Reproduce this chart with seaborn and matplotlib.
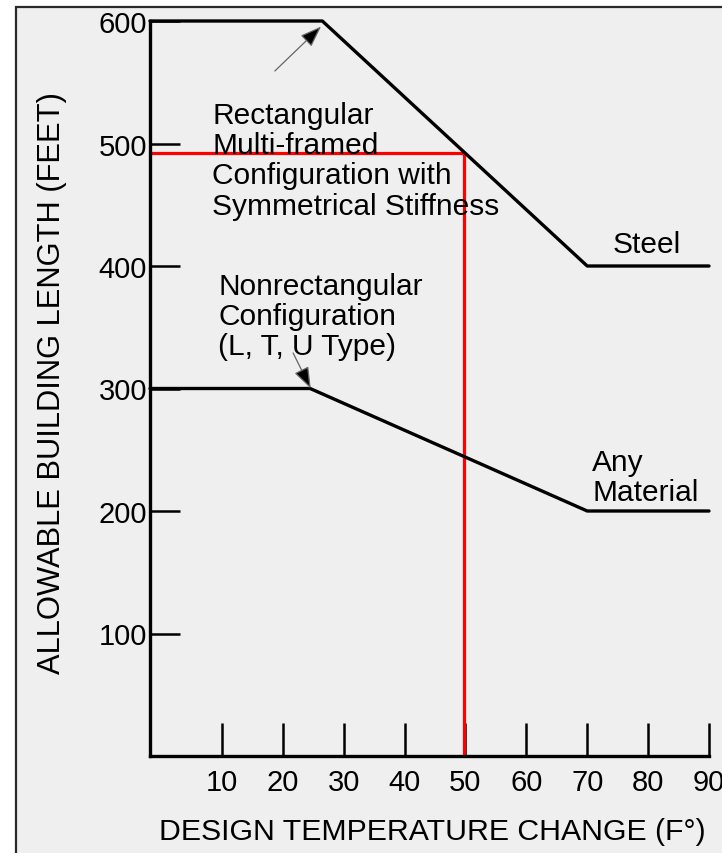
import matplotlib
matplotlib.use("Agg")
import matplotlib.pyplot as plt
from matplotlib.patches import Rectangle
import seaborn as sns

# ---- data ----
steel_x = [-1.8, 26.5, 70, 90]
steel_y = [600, 600, 400, 400]
any_x = [-1.8, 24.5, 70, 90]
any_y = [300, 300, 200, 200]
design_x = [-1.8, 49.7, 49.7]
design_y = [492, 492, 0]
x_ticks = [10, 20, 30, 40, 50, 60, 70, 80, 90]
y_ticks = [100, 200, 300, 400, 500, 600]
x_label = "DESIGN TEMPERATURE CHANGE (F°)"
y_label = "ALLOWABLE BUILDING LENGTH (FEET)"
rect_note = "Rectangular\nMulti-framed\nConfiguration with\nSymmetrical Stiffness"
nonrect_note = "Nonrectangular\nConfiguration\n(L, T, U Type)"
steel_label = "Steel"
any_label = "Any\nMaterial"

sns.set_theme(style="white")
plt.rcParams['font.family'] = ['Liberation Sans', 'DejaVu Sans']

W, H = 722, 854
fig = plt.figure(figsize=(W / 100, H / 100), dpi=100)
fig.patch.set_facecolor('white')
bg = Rectangle((16 / W, -0.05), 1.2, 1 - 8 / H + 0.05, transform=fig.transFigure,
               facecolor='#efefef', edgecolor='#2a2a2a', linewidth=1.6, zorder=-5)
fig.patches.append(bg)

ax = fig.add_axes([150 / W, (H - 757) / H, 559 / W, 735 / H])
ax.set_zorder(1)
ax.set_facecolor('none')

sns.lineplot(x=design_x, y=design_y, ax=ax, color='#ff0000', linewidth=2.3,
             sort=False, estimator=None, clip_on=False, zorder=1)
sns.lineplot(x=steel_x, y=steel_y, ax=ax, color='black', linewidth=2.4,
             sort=False, estimator=None, clip_on=False, zorder=3)
sns.lineplot(x=any_x, y=any_y, ax=ax, color='black', linewidth=2.4,
             sort=False, estimator=None, clip_on=False, zorder=3)

ax.set_xlim(-1.8, 90)
ax.set_ylim(0, 600)
ax.set_xticks(x_ticks)
ax.set_yticks(y_ticks)
ax.tick_params(axis='x', bottom=True, direction='in', length=23.8, width=1.8,
               pad=9, labelsize=21, color='black', labelcolor='black')
ax.tick_params(axis='y', left=True, direction='in', length=21.6, width=1.8,
               pad=2, labelsize=21, color='black', labelcolor='black')
for s in ['top', 'right']:
    ax.spines[s].set_visible(False)
for s in ['left', 'bottom']:
    ax.spines[s].set_linewidth(2.4)
    ax.spines[s].set_color('black')
    ax.spines[s].set_zorder(4)

ax.set_xlabel(x_label, fontsize=21.8, va='center', color='black')
ax.xaxis.set_label_coords((432 - 150) / 559, (757 - 832) / 735)
ax.set_ylabel(y_label, fontsize=22.2, va='center', ha='center', color='black')
ax.yaxis.set_label_coords((52 - 150) / 559, (757 - 383) / 735)

fs = 21.5
ax.text(8.4, 535, rect_note, fontsize=fs, va='top', ha='left', linespacing=1.11, color='black')
ax.text(9.4, 395.5, nonrect_note, fontsize=fs, va='top', ha='left', linespacing=1.11, color='black')
ax.text(74.1, 429.5, steel_label, fontsize=fs, va='top', ha='left', color='black')
ax.text(70.8, 251.5, any_label, fontsize=fs, va='top', ha='left', linespacing=1.11, color='black')

arrow = dict(arrowstyle='-|>,head_length=0.55,head_width=0.2', mutation_scale=24,
             edgecolor='#666666', facecolor='black', lw=0.9, shrinkA=0, shrinkB=0)
ax.annotate('', xy=(26.3, 595.5), xytext=(18.7, 559.2), arrowprops=arrow)
ax.annotate('', xy=(24.6, 300), xytext=(21.7, 329), arrowprops=arrow)

fig.savefig('out.png', dpi=100)
